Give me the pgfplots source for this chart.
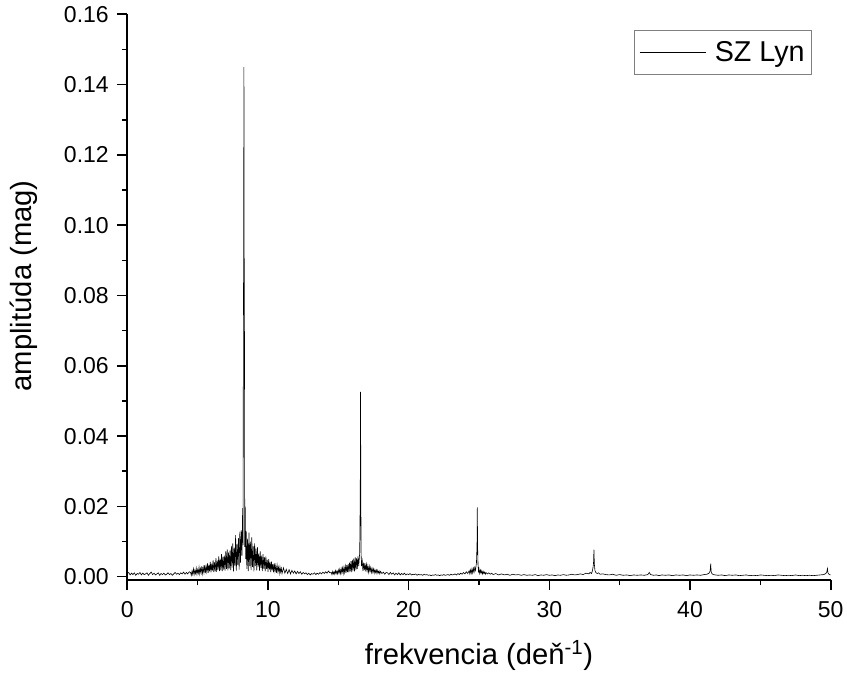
\documentclass[border=0pt]{standalone}
\usepackage{pgfplots}
\pgfplotsset{compat=1.18}
\usepackage{fontspec}
\setmainfont{Liberation Sans}
\begin{document}
\begin{tikzpicture}
\begin{axis}[
  name=ax,
  scale only axis,
  width=703.4pt, height=565.7pt,
  xmin=0, xmax=50, ymin=-0.00094, ymax=0.16,
  axis x line*=bottom, axis y line*=left,
  axis line style={line width=1.6pt},
  tick align=outside,
  major tick length=10.5pt, minor tick length=5.5pt,
  every tick/.style={line width=1.6pt, black},
  xtick={0,10,20,30,40,50}, minor xtick={5,15,25,35,45},
  ytick={0,0.02,0.04,0.06,0.08,0.10,0.12,0.14,0.16},
  minor ytick={0.01,0.03,0.05,0.07,0.09,0.11,0.13,0.15},
  /pgf/number format/assume math mode=true,
  yticklabel style={/pgf/number format/fixed, /pgf/number format/fixed zerofill, /pgf/number format/precision=2, xshift=-4.5pt},
  xticklabel style={yshift=-7pt},
  scaled y ticks=false,
  ticklabel style={font=\fontsize{23}{27}\selectfont},
  xlabel={frekvencia (deň\textsuperscript{-1})},
  ylabel={amplitúda (mag)},
  label style={font=\fontsize{29.2}{34}\selectfont},
  xlabel style={at={(axis description cs:0.5,-0.1485)}, anchor=base},
  ylabel style={at={(axis description cs:-0.1469,0.52)}, anchor=center},
  legend style={draw=gray, line width=0.8pt, at={(0.9735,0.972)}, anchor=north east,
    font=\fontsize{28.7}{33}\selectfont, inner xsep=5pt, inner ysep=9pt, column sep=7pt},
  legend image code/.code={\draw[#1, line width=0.6pt] (0pt,0pt) -- (66pt,0pt);},
  clip=true,
]
\addplot[black, line width=0.6pt] coordinates {
(0.0,.0009)(0.1,.0012)(0.2,.0005)(0.3,.0010)(0.4,.0006)(0.5,.0011)(0.6,.0004)(0.7,.0009)(0.8,.0007)(0.9,.0012)
(1.0,.0005)(1.1,.0010)(1.2,.0006)(1.3,.0008)(1.4,.0011)(1.5,.0004)(1.6,.0009)(1.7,.0013)(1.8,.0006)(1.9,.0010)
(2.0,.0005)(2.1,.0008)(2.2,.0011)(2.3,.0004)(2.4,.0009)(2.5,.0006)(2.6,.0010)(2.7,.0005)(2.8,.0007)(2.9,.0011)
(3.0,.0006)(3.1,.0009)(3.2,.0004)(3.3,.0008)(3.4,.0012)(3.5,.0007)(3.6,.0010)(3.7,.0006)(3.8,.0011)(3.9,.0008)
(4.0,.0013)(4.1,.0007)(4.2,.0012)(4.3,.0008)(4.4,.0014)
(4.50,.0012)(4.55,.0004)(4.60,.0016)(4.65,.0007)(4.70,.0022)(4.75,.0006)(4.80,.0018)(4.85,.0009)(4.90,.0024)(4.95,.0007)
(5.00,.0020)(5.05,.0010)(5.10,.0027)(5.15,.0008)(5.20,.0023)(5.25,.0011)(5.30,.0030)(5.35,.0009)(5.40,.0026)(5.45,.0012)
(5.50,.0033)(5.55,.0010)(5.60,.0029)(5.65,.0014)(5.70,.0038)(5.75,.0011)(5.80,.0034)(5.85,.0015)(5.90,.0042)(5.95,.0012)
(6.00,.0037)(6.05,.0017)(6.10,.0047)(6.15,.0013)(6.20,.0041)(6.25,.0015)(6.30,.0053)(6.35,.0014)(6.40,.0046)(6.45,.0020)
(6.50,.0058)(6.55,.0016)(6.60,.0051)(6.65,.0018)(6.70,.0064)(6.75,.0016)(6.80,.0057)(6.85,.0020)(6.90,.0060)(6.95,.0017)
(7.00,.0072)(7.05,.0022)(7.10,.0078)(7.15,.0018)(7.20,.0069)(7.25,.0024)(7.30,.0074)(7.35,.0019)(7.40,.0088)(7.45,.0026)
(7.50,.0095)(7.55,.0015)(7.60,.0083)(7.65,.0030)(7.70,.0118)(7.75,.0017)(7.80,.0092)(7.85,.0034)(7.90,.0110)(7.95,.0020)
(8.00,.0128)(8.05,.0040)(8.10,.0132)(8.15,.0060)(8.20,.0195)(8.23,.0090)(8.25,.0660)(8.27,.0920)(8.29,.1450)(8.31,.0900)
(8.33,.0670)(8.35,.0085)(8.38,.0200)(8.42,.0050)(8.45,.0130)(8.50,.0022)(8.55,.0108)(8.60,.0016)(8.65,.0125)(8.70,.0030)
(8.75,.0100)(8.80,.0019)(8.85,.0112)(8.90,.0028)(8.95,.0086)(9.00,.0015)(9.05,.0095)(9.10,.0030)(9.15,.0080)(9.20,.0018)
(9.25,.0084)(9.30,.0027)(9.35,.0066)(9.40,.0017)(9.45,.0072)(9.50,.0025)(9.55,.0060)(9.60,.0016)(9.65,.0064)(9.70,.0023)
(9.75,.0055)(9.80,.0015)(9.85,.0058)(9.90,.0022)(9.95,.0048)(10.00,.0014)(10.05,.0050)(10.10,.0020)(10.15,.0042)(10.20,.0013)
(10.25,.0043)(10.30,.0018)(10.35,.0036)(10.40,.0012)(10.45,.0038)(10.50,.0016)(10.55,.0031)(10.60,.0011)(10.65,.0033)(10.70,.0015)
(10.75,.0027)(10.80,.0010)(10.85,.0028)(10.90,.0013)(10.95,.0024)(11.00,.0009)(11.10,.0025)(11.20,.0010)(11.30,.0021)(11.40,.0009)
(11.50,.0020)(11.60,.0008)(11.70,.0018)(11.80,.0010)(11.90,.0016)(12.00,.0008)(12.10,.0015)(12.20,.0009)(12.30,.0014)(12.40,.0007)
(12.50,.0012)(12.6,.0008)(12.7,.0011)(12.8,.0006)(12.9,.0010)(13.0,.0005)(13.1,.0009)(13.2,.0007)(13.3,.0011)(13.4,.0006)
(13.5,.0010)(13.6,.0007)(13.7,.0012)(13.8,.0008)(13.9,.0013)(14.0,.0009)(14.1,.0014)(14.2,.0010)(14.3,.0016)(14.4,.0011)
(14.50,.0012)(14.55,.0006)(14.60,.0015)(14.65,.0008)(14.70,.0014)(14.75,.0007)(14.80,.0017)(14.85,.0009)(14.90,.0016)(14.95,.0008)
(15.00,.0019)(15.05,.0010)(15.10,.0021)(15.15,.0009)(15.20,.0023)(15.25,.0011)(15.30,.0025)(15.35,.0010)(15.40,.0027)(15.45,.0012)
(15.50,.0030)(15.55,.0011)(15.60,.0033)(15.65,.0013)(15.70,.0036)(15.75,.0012)(15.80,.0040)(15.85,.0015)(15.90,.0044)(15.95,.0013)
(16.00,.0048)(16.05,.0017)(16.10,.0051)(16.15,.0015)(16.20,.0055)(16.25,.0019)(16.30,.0053)(16.35,.0022)(16.40,.0058)(16.45,.0030)
(16.52,.0068)(16.56,.0240)(16.58,.0526)(16.60,.0250)(16.62,.0065)(16.65,.0030)(16.70,.0045)(16.75,.0016)(16.80,.0040)(16.85,.0019)
(16.90,.0038)(16.95,.0015)(17.00,.0035)(17.05,.0017)(17.10,.0031)(17.15,.0013)(17.20,.0029)(17.25,.0015)(17.30,.0026)(17.35,.0012)
(17.40,.0024)(17.45,.0013)(17.50,.0022)(17.55,.0010)(17.60,.0020)(17.65,.0012)(17.70,.0019)(17.75,.0009)(17.80,.0018)(17.85,.0011)
(17.90,.0016)(17.95,.0008)(18.00,.0015)(18.10,.0009)(18.20,.0013)(18.30,.0007)(18.40,.0012)
(18.5,.0011)(18.6,.0006)(18.7,.0012)(18.8,.0007)(18.9,.0011)(19.0,.0005)(19.1,.0010)(19.2,.0006)(19.3,.0011)(19.4,.0005)
(19.5,.0009)(19.6,.0006)(19.7,.0010)(19.8,.0005)(19.9,.0008)(20.0,.0006)(20.1,.0009)(20.2,.0005)(20.3,.0007)(20.4,.0006)
(20.5,.0008)(20.6,.0004)(20.7,.0007)(20.8,.0005)(20.9,.0006)(21.0,.0004)(21.1,.0007)(21.2,.0005)(21.3,.0006)(21.4,.0004)
(21.5,.0005)(21.6,.0003)(21.7,.0005)(21.8,.0004)(21.9,.0006)(22.0,.0004)(22.1,.0005)(22.2,.0003)(22.3,.0005)(22.4,.0004)
(22.5,.0006)(22.6,.0004)(22.7,.0005)(22.8,.0006)(22.9,.0004)(23.0,.0007)(23.1,.0005)(23.2,.0006)(23.3,.0008)(23.4,.0005)
(23.5,.0009)(23.6,.0006)(23.7,.0010)(23.8,.0007)(23.9,.0012)(24.0,.0008)(24.1,.0014)(24.2,.0009)(24.3,.0017)
(24.35,.0008)(24.40,.0019)(24.45,.0010)(24.50,.0022)(24.55,.0011)(24.60,.0024)(24.65,.0013)(24.70,.0026)(24.75,.0018)(24.82,.0040)
(24.86,.0090)(24.88,.0197)(24.90,.0088)(24.93,.0035)(24.97,.0012)(25.00,.0022)(25.05,.0009)(25.10,.0019)(25.15,.0010)(25.20,.0017)
(25.25,.0008)(25.30,.0015)(25.35,.0009)(25.40,.0013)(25.45,.0007)(25.50,.0012)(25.60,.0008)(25.70,.0011)(25.80,.0007)(25.90,.0010)
(26.0,.0006)(26.2,.0009)(26.4,.0005)(26.6,.0008)(26.8,.0005)(27.0,.0007)(27.2,.0004)(27.4,.0007)(27.6,.0005)(27.8,.0006)
(28.0,.0004)(28.2,.0006)(28.4,.0004)(28.6,.0005)(28.8,.0004)(29.0,.0006)(29.2,.0003)(29.4,.0005)(29.6,.0004)(29.8,.0006)
(30.0,.0004)(30.2,.0005)(30.4,.0003)(30.6,.0005)(30.8,.0004)(31.0,.0006)(31.2,.0004)(31.4,.0005)(31.6,.0007)(31.8,.0005)
(32.0,.0006)(32.2,.0008)(32.4,.0006)(32.6,.0010)(32.8,.0008)(32.9,.0012)(33.0,.0009)(33.05,.0015)(33.10,.0025)(33.14,.0038)
(33.17,.0077)(33.20,.0036)(33.24,.0018)(33.30,.0012)(33.40,.0009)(33.50,.0011)(33.60,.0007)(33.8,.0008)(34.0,.0006)(34.25,.0005)
(34.5,.0007)(34.75,.0004)(35.0,.0006)(35.25,.0004)(35.5,.0005)(35.75,.0003)(36.0,.0005)(36.25,.0004)(36.5,.0005)(36.75,.0004)
(37.0,.0006)(37.1,.0012)(37.2,.0006)(37.4,.0004)(37.6,.0005)(37.8,.0003)(38.0,.0005)(38.25,.0004)(38.5,.0005)(38.75,.0003)
(39.0,.0005)(39.25,.0004)(39.5,.0005)(39.75,.0003)(40.0,.0005)(40.25,.0004)(40.5,.0005)(40.75,.0004)(41.0,.0006)(41.2,.0007)
(41.35,.0010)(41.43,.0016)(41.47,.0037)(41.50,.0015)(41.55,.0009)(41.65,.0006)(41.8,.0005)(42.0,.0004)(42.25,.0005)(42.5,.0003)
(42.75,.0005)(43.0,.0004)(43.25,.0005)(43.5,.0003)(43.75,.0004)(44.0,.0005)(44.25,.0003)(44.5,.0004)(44.75,.0003)(45.0,.0005)
(45.25,.0004)(45.5,.0003)(45.75,.0004)(46.0,.0003)(46.25,.0005)(46.5,.0004)(46.75,.0003)(47.0,.0004)(47.25,.0003)(47.5,.0005)
(47.75,.0003)(48.0,.0004)(48.25,.0003)(48.5,.0004)(48.75,.0003)(49.0,.0004)(49.25,.0005)(49.5,.0006)(49.65,.0009)(49.72,.0013)
(49.77,.0023)(49.80,.0012)(49.85,.0008)(49.9,.0006)(50.0,.0005)
};
\addlegendentry{SZ Lyn}
\end{axis}
\path (ax.south west) ++(-127.3pt,-99pt) rectangle ++(847pt,679pt);
\end{tikzpicture}
\end{document}
